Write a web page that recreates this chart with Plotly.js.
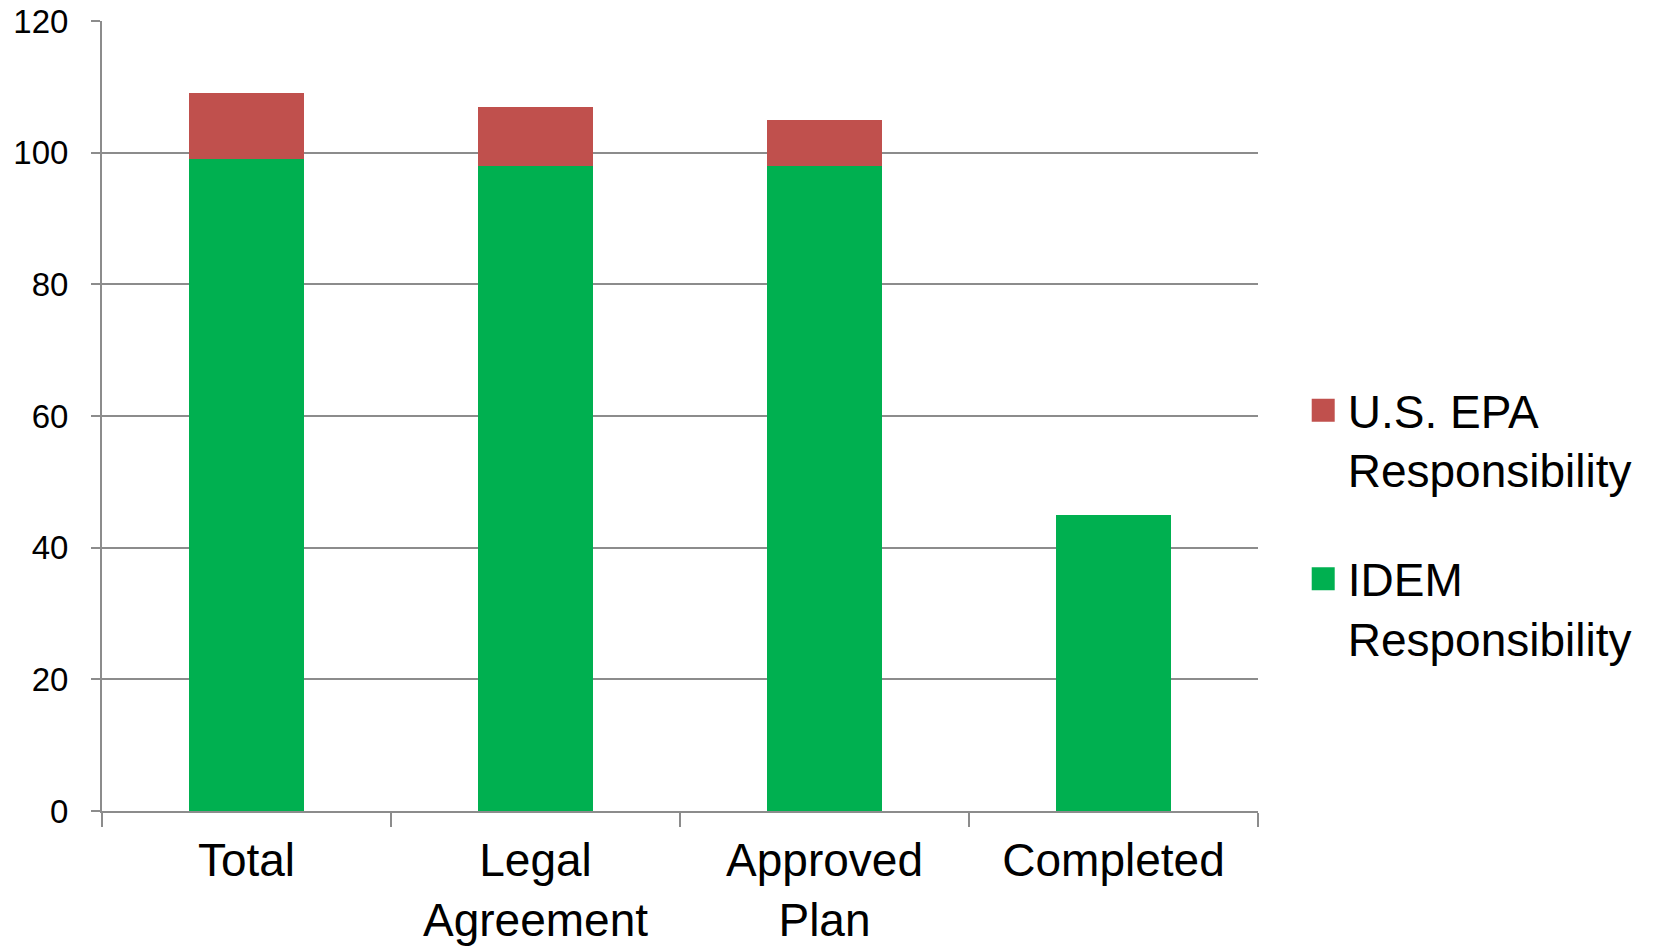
<!DOCTYPE html>
<html>
<head>
<meta charset="utf-8">
<script src="https://cdn.plot.ly/plotly-3.0.1.min.js"></script>
<style>
html, body { margin: 0; padding: 0; background: #fff; }
#chart { width: 1655px; height: 947px; }
</style>
</head>
<body>
<div id="chart"></div>
<script>
const categories = ["Total", "Legal<br>Agreement", "Approved<br>Plan", "Completed"];
const idemValues = [99, 98, 98, 45];
const epaValues = [10, 9, 7, 0];
const yTickValues = [0, 20, 40, 60, 80, 100, 120];
const seriesNames = ["IDEM<br>Responsibility", "U.S. EPA<br>Responsibility"];

const traces = [
  {
    type: "bar", x: categories, y: idemValues, name: seriesNames[0],
    marker: { color: "#00B050" }, legendgroup: "idem", legendrank: 2, hoverinfo: "x+y"
  },
  {
    type: "bar", x: categories, y: epaValues, name: seriesNames[1],
    marker: { color: "#C0504D" }, legendgroup: "epa", legendrank: 1, hoverinfo: "x+y"
  }
];

const gridColor = "#8c8c8c";
const layout = {
  width: 1655, height: 947,
  margin: { l: 102, r: 397, t: 21, b: 136 },
  paper_bgcolor: "#ffffff", plot_bgcolor: "#ffffff",
  barmode: "stack",
  bargap: 0.6,
  showlegend: true,
  legend: {
    x: 1.043, xanchor: "left", y: 0.554, yanchor: "top",
    traceorder: "grouped", tracegroupgap: 46, valign: "top",
    font: { family: "Liberation Sans, Arial, sans-serif", size: 46, color: "#000" },
    bgcolor: "rgba(0,0,0,0)", borderwidth: 0
  },
  xaxis: {
    type: "category",
    tickson: "boundaries",
    ticks: "outside", ticklen: 14, tickwidth: 2, tickcolor: gridColor,
    showline: true, linecolor: gridColor, linewidth: 2,
    showgrid: false,
    ticklabelstandoff: 8,
    tickfont: { family: "Liberation Sans, Arial, sans-serif", size: 46, color: "#000" },
    fixedrange: true
  },
  yaxis: {
    range: [0, 120],
    tickvals: yTickValues,
    ticktext: yTickValues.map(String),
    ticks: "outside", ticklen: 9, tickwidth: 2, tickcolor: gridColor,
    showline: true, linecolor: gridColor, linewidth: 2,
    showgrid: true, gridcolor: gridColor, gridwidth: 2,
    zeroline: false,
    ticklabelstandoff: 16,
    tickfont: { family: "Liberation Sans, Arial, sans-serif", size: 33, color: "#000" },
    fixedrange: true
  }
};

Plotly.newPlot("chart", traces, layout, { displayModeBar: false, staticPlot: true }).then(function () {
  document.querySelectorAll("#chart .legendpoints path").forEach(function (p) {
    p.removeAttribute("transform");
    p.setAttribute("d", "M4,-11H27V12H4Z");
  });
});
</script>
</body>
</html>
